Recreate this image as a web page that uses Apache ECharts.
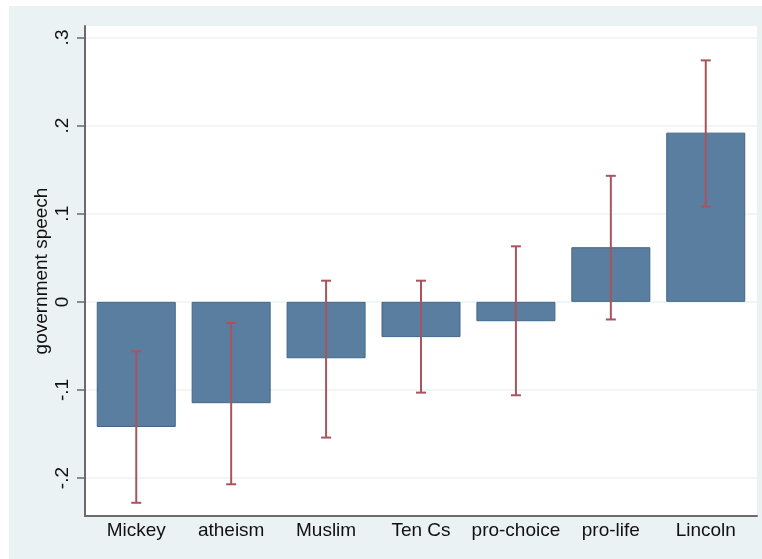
<!DOCTYPE html>
<html>
<head>
<meta charset="utf-8">
<script src="https://cdn.jsdelivr.net/npm/echarts@6/dist/echarts.min.js"></script>
<style>
  html, body { margin: 0; padding: 0; background: #ffffff; }
  #wrap { position: relative; width: 762px; height: 559px; background: #ffffff; }
  #frame { position: absolute; left: 9px; top: 6px; width: 753px; height: 553px; background: #eaf2f3; }
  #chart { position: absolute; left: 0; top: 0; width: 762px; height: 559px; }
</style>
</head>
<body>
<div id="wrap">
  <div id="frame"></div>
  <div id="chart"></div>
</div>
<script>
// Mean "government speech" rating by display, with 95% confidence intervals
const categories = ['Mickey', 'atheism', 'Muslim', 'Ten Cs', 'pro-choice', 'pro-life', 'Lincoln'];
const means  = [-0.142, -0.115, -0.064, -0.040, -0.022, 0.062, 0.192];
const ciLow  = [-0.228, -0.207, -0.154, -0.103, -0.106, -0.020, 0.108];
const ciHigh = [-0.056, -0.024,  0.024,  0.024,  0.063,  0.143, 0.274];
const yTickValues = [-0.2, -0.1, 0, 0.1, 0.2, 0.3];
const yTickLabels = ['-.2', '-.1', '0', '.1', '.2', '.3'];
const yTitle = 'government speech';

const FONT = '"Liberation Sans", Arial, Helvetica, sans-serif';
const positions = categories.map((c, i) => i);

const chart = echarts.init(document.getElementById('chart'), null, { renderer: 'canvas' });

chart.setOption({
  backgroundColor: 'transparent',
  animation: false,
  grid: {
    left: 85, top: 26, width: 672, height: 490,
    show: true, backgroundColor: '#ffffff', borderWidth: 0
  },
  xAxis: {
    type: 'value',
    min: -0.54, max: 6.54,
    axisLine: { show: true, onZero: false, lineStyle: { color: '#6a6a6a', width: 2 } },
    axisTick: { show: false },
    splitLine: { show: false },
    axisLabel: {
      customValues: positions,
      formatter: v => categories[Math.round(v)],
      fontFamily: FONT, fontSize: 19, color: '#111111', margin: 5
    }
  },
  yAxis: {
    type: 'value',
    min: -0.243, max: 0.313,
    name: yTitle,
    nameLocation: 'middle',
    nameGap: 34,
    nameMoveOverlap: false,
    nameTextStyle: { fontFamily: FONT, fontSize: 19, color: '#111111' },
    axisLine: { show: true, onZero: false, lineStyle: { color: '#6a6a6a', width: 2 } },
    axisTick: { show: true, length: 8, customValues: yTickValues, lineStyle: { color: '#6a6a6a', width: 1.5 } },
    splitLine: { show: true, lineStyle: { color: '#ebf2f3', width: 1.5 } },
    axisLabel: {
      customValues: yTickValues,
      rotate: 90,
      margin: 13,
      formatter: v => {
        const k = yTickValues.findIndex(t => Math.abs(t - v) < 1e-9);
        return k >= 0 ? yTickLabels[k] : '';
      },
      fontFamily: FONT, fontSize: 19, color: '#111111'
    }
  },
  series: [
    {
      type: 'bar',
      data: positions.map(i => [i, means[i]]),
      barWidth: 79,
      itemStyle: { color: '#597e9f', borderColor: '#41678a', borderWidth: 1 },
      z: 2
    },
    {
      type: 'custom',
      data: positions.map(i => [i, ciLow[i], ciHigh[i]]),
      encode: { x: 0, y: [1, 2] },
      z: 5,
      renderItem: (params, api) => {
        const x = api.value(0);
        const lo = api.coord([x, api.value(1)]);
        const hi = api.coord([x, api.value(2)]);
        const half = 5;
        const style = { stroke: '#a9545d', lineWidth: 2 };
        return {
          type: 'group',
          children: [
            { type: 'line', shape: { x1: lo[0], y1: lo[1], x2: hi[0], y2: hi[1] }, style },
            { type: 'line', shape: { x1: hi[0] - half, y1: hi[1], x2: hi[0] + half, y2: hi[1] }, style },
            { type: 'line', shape: { x1: lo[0] - half, y1: lo[1], x2: lo[0] + half, y2: lo[1] }, style }
          ]
        };
      }
    }
  ]
});
</script>
</body>
</html>
